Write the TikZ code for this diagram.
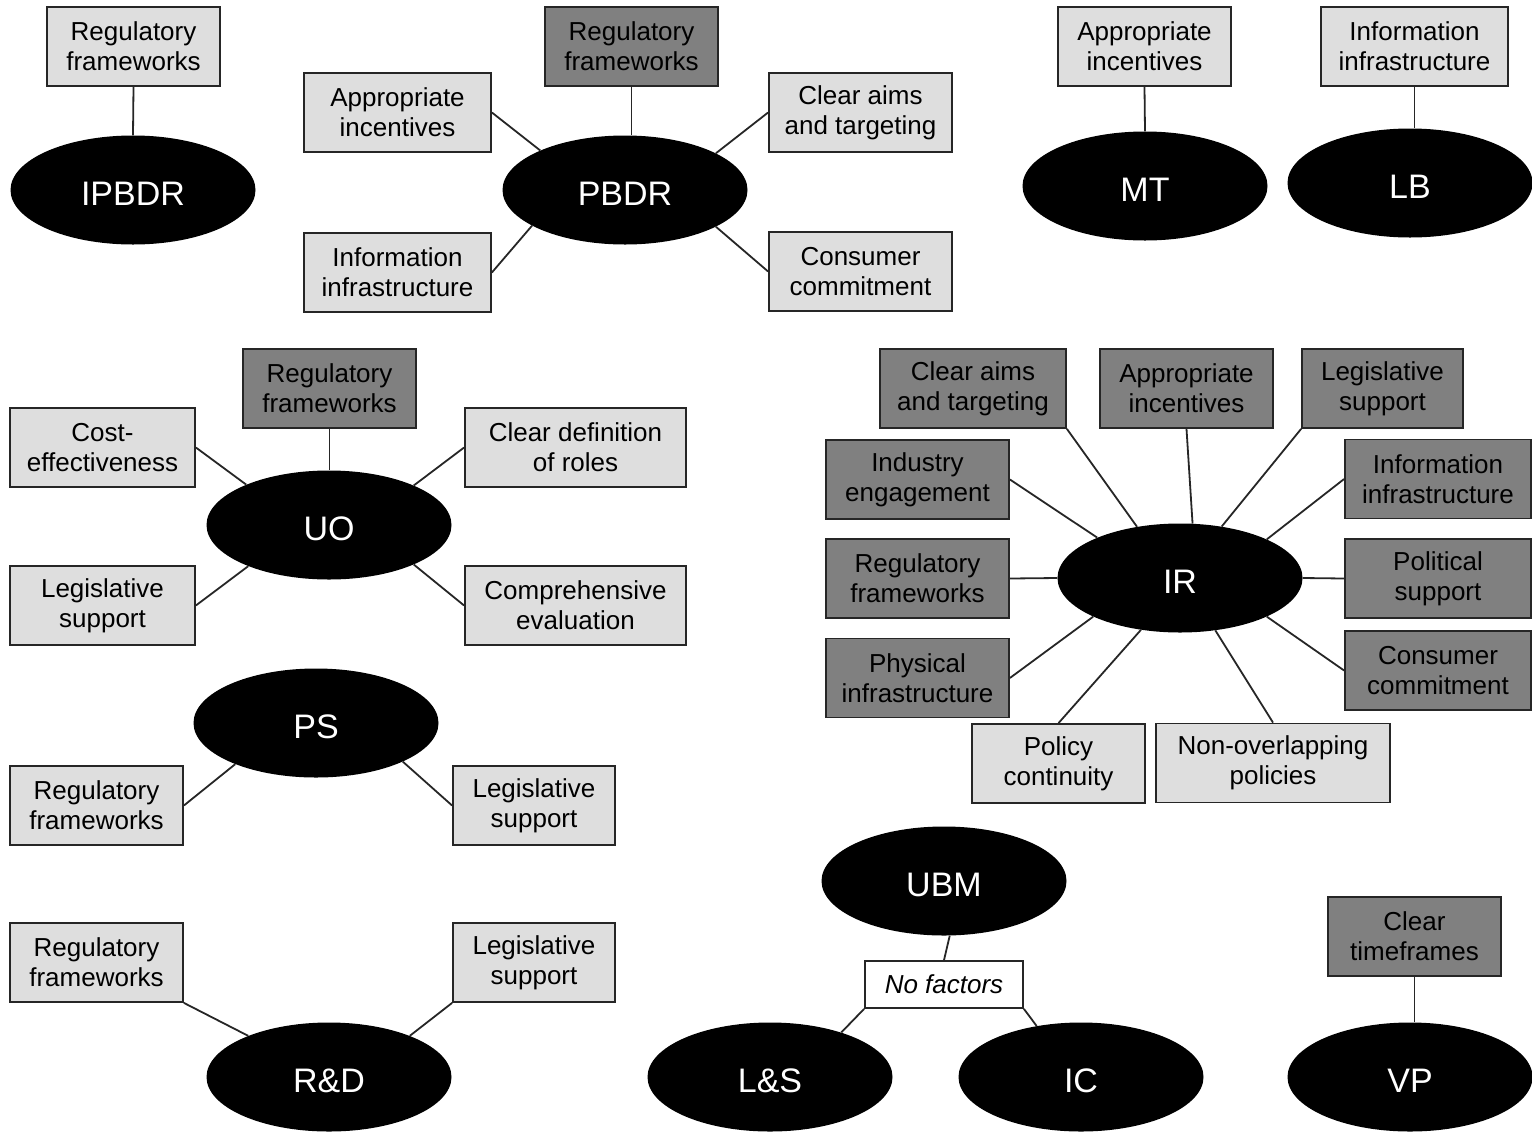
\documentclass[tikz,border=0pt]{standalone}
\usepackage{fontspec}
\setmainfont{Liberation Sans}
\usepackage{tikz}
\usetikzlibrary{shapes.geometric}
\definecolor{lightfactor}{HTML}{DEDEDE}
\definecolor{darkfactor}{HTML}{808080}

\begin{document}
\begin{tikzpicture}[x=1pt,y=-1pt,
          factor/.style={draw=black!85,line width=1.8pt,fill=lightfactor,minimum height=79pt,inner sep=0pt,align=center,font=\fontsize{26}{30}\selectfont},
          keyfactor/.style={factor,fill=darkfactor},
          scheme/.style={ellipse,fill=black,minimum width=245pt,minimum height=109pt,inner sep=0pt,text=white,text height=30pt,text depth=0pt,font=\fontsize{34}{36}\selectfont},
          link/.style={line width=1.8pt,black!85}]
          \useasboundingbox (0,0) rectangle (1532,1133);
          \node[scheme] (ipbdr) at (133,190) {IPBDR};
          \node[factor,minimum width=173pt] (rfA) at (133.5,46.5) {Regulatory\\frameworks};
          \draw[link] (rfA.south) -- (ipbdr.north);
          \node[scheme] (pbdr) at (625,190) {PBDR};
          \node[keyfactor,minimum width=173pt] (rfB) at (631.5,46.5) {Regulatory\\frameworks};
          \node[factor,minimum width=187pt] (aiB) at (397.5,112.5) {Appropriate\\incentives};
          \node[factor,minimum width=183pt] (caB) at (860.5,112.5) {Clear aims\\and targeting};
          \node[factor,minimum width=187pt] (iiB) at (397.5,272.5) {Information\\infrastructure};
          \node[factor,minimum width=183pt] (ccB) at (860.5,271.5) {Consumer\\commitment};
          \draw[link] (rfB.south) -- (rfB.south |- pbdr.north);
          \draw[link] (aiB.east) -- (pbdr.155);
          \draw[link] (caB.west) -- (pbdr.22);
          \draw[link] (iiB.east) -- (pbdr.201);
          \draw[link] (ccB.west) -- (pbdr.338);
          \node[scheme] (mt) at (1145,186) {MT};
          \node[factor,minimum width=173pt] (aiC) at (1144.5,46.5) {Appropriate\\incentives};
          \draw[link] (aiC.south) -- (mt.north);
          \node[scheme] (lb) at (1410,183) {LB};
          \node[factor,minimum width=187pt] (iiD) at (1414.5,46.5) {Information\\infrastructure};
          \draw[link] (iiD.south) -- (iiD.south |- lb.north);
          \node[scheme] (uo) at (329,525) {UO};
          \node[keyfactor,minimum width=173pt] (rfE) at (329.5,388.5) {Regulatory\\frameworks};
          \node[factor,minimum width=185pt] (ceE) at (102.5,447.5) {Cost-\\effectiveness};
          \node[factor,minimum width=221pt] (cdE) at (575.5,447.5) {Clear definition\\of roles};
          \node[factor,minimum width=185pt] (lsE) at (102.5,605.5) {Legislative\\support};
          \node[factor,minimum width=221pt] (evE) at (575.5,605.5) {Comprehensive\\evaluation};
          \draw[link] (rfE.south) -- (rfE.south |- uo.north);
          \draw[link] (ceE.east) -- (uo.154);
          \draw[link] (cdE.west) -- (uo.25);
          \draw[link] (lsE.east) -- (uo.207);
          \draw[link] (evE.west) -- (uo.335);
          \node[scheme] (ps) at (316,723) {PS};
          \node[factor,minimum width=173pt] (rfF) at (96.5,805.5) {Regulatory\\frameworks};
          \node[factor,minimum width=162pt] (lsF) at (534,805.5) {Legislative\\support};
          \draw[link] (rfF.east) -- (ps.207);
          \draw[link] (lsF.west) -- (ps.336);
          \node[scheme] (rd) at (329,1077) {R\&D};
          \node[factor,minimum width=173pt] (rfG) at (96.5,962.5) {Regulatory\\frameworks};
          \node[factor,minimum width=162pt] (lsG) at (534,962.5) {Legislative\\support};
          \draw[link] (rfG.south east) -- (rd.153);
          \draw[link] (lsG.south west) -- (rd.27);
          \node[scheme] (ir) at (1180,578) {IR};
          \node[keyfactor,minimum width=186pt] (caH) at (973,388.5) {Clear aims\\and targeting};
          \node[keyfactor,minimum width=173pt] (aiH) at (1186.5,388.5) {Appropriate\\incentives};
          \node[keyfactor,minimum width=161pt] (lsH) at (1382.5,388.5) {Legislative\\support};
          \node[keyfactor,minimum width=183pt] (ieH) at (917.5,479.5) {Industry\\engagement};
          \node[keyfactor,minimum width=186pt] (iiH) at (1438,479) {Information\\infrastructure};
          \node[keyfactor,minimum width=183pt] (rfH) at (917.5,578.5) {Regulatory\\frameworks};
          \node[keyfactor,minimum width=186pt] (psH) at (1438,578.5) {Political\\support};
          \node[keyfactor,minimum width=183pt] (piH) at (917.5,678) {Physical\\infrastructure};
          \node[keyfactor,minimum width=186pt] (ccH) at (1438,670.5) {Consumer\\commitment};
          \node[factor,minimum width=173pt] (pcH) at (1058.5,763.5) {Policy\\continuity};
          \node[factor,minimum width=234pt] (noH) at (1273,763) {Non-overlapping\\policies};
          \draw[link] (caH.south east) -- (ir.130);
          \draw[link] (aiH.south) -- (ir.77);
          \draw[link] (lsH.south west) -- (ir.51);
          \draw[link] (ieH.east) -- (ir.154);
          \draw[link] (iiH.west) -- (ir.24);
          \draw[link] (rfH.east) -- (ir.west);
          \draw[link] (psH.west) -- (ir.east);
          \draw[link] (piH.east) -- (ir.204);
          \draw[link] (ccH.west) -- (ir.336);
          \draw[link] (pcH.north) -- (ir.233);
          \draw[link] (noH.north) -- (ir.304);
          \node[scheme] (ubm) at (944,881) {UBM};
          \node[factor,fill=white,minimum width=158pt,minimum height=47pt,font=\fontsize{26}{30}\selectfont\itshape] (nf) at (944,984.5) {No factors};
          \node[scheme] (ls) at (770,1077) {L\&S};
          \node[scheme] (ic) at (1081,1077) {IC};
          \draw[link] (ubm.276) -- (nf.north);
          \draw[link] (nf.south west) -- (ls.32);
          \draw[link] (nf.south east) -- (ic.131);
          \node[scheme] (vp) at (1410,1077) {VP};
          \node[keyfactor,minimum width=173pt] (ctK) at (1414.5,936.5) {Clear\\timeframes};
          \draw[link] (ctK.south) -- (ctK.south |- vp.north);
        \end{tikzpicture}
\end{document}
